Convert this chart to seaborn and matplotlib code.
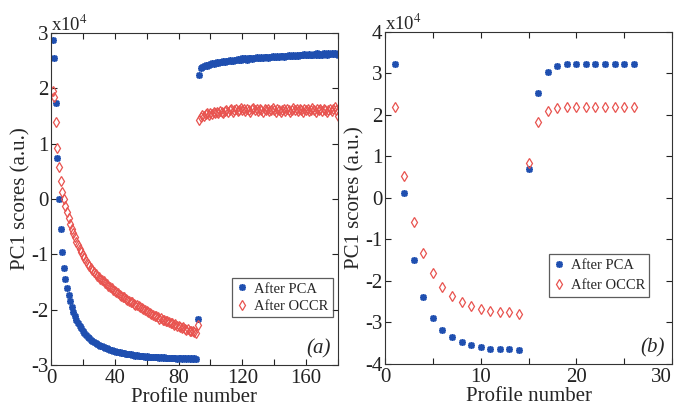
import numpy as np
import pandas as pd
import matplotlib
matplotlib.use("Agg")
import matplotlib.pyplot as plt
import seaborn as sns

# ---------------- data (PC1 scores in units of 1e4) ----------------
# Panel (a): profile numbers 1..180
pca_a_low = [2.87, 2.54, 1.74, 0.74, 0.00, -0.55, -0.96, -1.25, -1.45, -1.61,
             -1.74, -1.85, -1.95, -2.04, -2.12, -2.18, -2.24, -2.29, -2.33, -2.38,
             -2.42, -2.45, -2.49, -2.51, -2.54, -2.56, -2.58, -2.60, -2.62, -2.63,
             -2.65, -2.66, -2.68, -2.69, -2.70, -2.71, -2.72, -2.73, -2.74, -2.75,
             -2.76, -2.76, -2.77, -2.78, -2.79, -2.79, -2.80, -2.80, -2.81, -2.81,
             -2.82, -2.82, -2.83, -2.82, -2.83, -2.84, -2.83, -2.84, -2.85, -2.84,
             -2.85, -2.85, -2.86, -2.85, -2.86, -2.86, -2.85, -2.87, -2.86, -2.87,
             -2.86, -2.87, -2.88, -2.87, -2.87, -2.88, -2.87, -2.88, -2.89, -2.88,
             -2.87, -2.89, -2.88, -2.88, -2.89, -2.88, -2.89, -2.88, -2.89, -2.88,
             -2.89, -2.17]
pca_a_high = [2.25, 2.37, 2.39, 2.40, 2.42, 2.41, 2.43, 2.44, 2.45, 2.44,
              2.46, 2.47, 2.45, 2.48, 2.47, 2.49, 2.47, 2.50, 2.49, 2.51,
              2.50, 2.49, 2.52, 2.51, 2.53, 2.52, 2.51, 2.54, 2.53, 2.54,
              2.52, 2.55, 2.54, 2.53, 2.55, 2.54, 2.56, 2.55, 2.54, 2.56,
              2.55, 2.57, 2.56, 2.55, 2.57, 2.56, 2.58, 2.57, 2.56, 2.58,
              2.57, 2.59, 2.58, 2.57, 2.59, 2.58, 2.60, 2.58, 2.59, 2.60,
              2.59, 2.61, 2.59, 2.60, 2.61, 2.60, 2.62, 2.60, 2.61, 2.62,
              2.61, 2.60, 2.62, 2.61, 2.63, 2.61, 2.62, 2.61, 2.63, 2.62,
              2.61, 2.63, 2.62, 2.64, 2.62, 2.63, 2.62, 2.61]
occr_a_low = [1.96, 1.85, 1.40, 0.93, 0.58, 0.33, 0.13, 0.00, -0.12, -0.24,
              -0.35, -0.45, -0.54, -0.62, -0.69, -0.77, -0.84, -0.90, -0.96, -1.02,
              -1.07, -1.12, -1.17, -1.21, -1.25, -1.29, -1.32, -1.35, -1.39, -1.41,
              -1.44, -1.47, -1.49, -1.52, -1.54, -1.57, -1.59, -1.61, -1.64, -1.66,
              -1.68, -1.70, -1.73, -1.75, -1.77, -1.78, -1.80, -1.82, -1.84, -1.86,
              -1.87, -1.89, -1.91, -1.92, -1.94, -1.96, -1.97, -1.99, -2.00, -2.03,
              -2.05, -2.06, -2.08, -2.09, -2.11, -2.12, -2.14, -2.16, -2.15, -2.18,
              -2.19, -2.21, -2.20, -2.23, -2.24, -2.25, -2.27, -2.26, -2.29, -2.30,
              -2.31, -2.33, -2.32, -2.35, -2.36, -2.35, -2.38, -2.39, -2.38, -2.41,
              -2.43, -2.28]
occr_a_high = [1.42, 1.49, 1.52, 1.50, 1.53, 1.55, 1.52, 1.56, 1.54, 1.57,
               1.55, 1.58, 1.56, 1.59, 1.57, 1.55, 1.59, 1.61, 1.57, 1.60,
               1.62, 1.58, 1.60, 1.63, 1.59, 1.61, 1.64, 1.60, 1.62, 1.59,
               1.63, 1.61, 1.58, 1.62, 1.64, 1.60, 1.62, 1.59, 1.63, 1.61,
               1.58, 1.62, 1.60, 1.63, 1.59, 1.61, 1.64, 1.60, 1.58, 1.62,
               1.60, 1.57, 1.61, 1.63, 1.59, 1.62, 1.60, 1.58, 1.61, 1.64,
               1.60, 1.62, 1.59, 1.63, 1.61, 1.58, 1.62, 1.60, 1.63, 1.59,
               1.61, 1.64, 1.60, 1.58, 1.62, 1.61, 1.63, 1.59, 1.62, 1.60,
               1.57, 1.61, 1.63, 1.59, 1.62, 1.66, 1.60, 1.50]
profiles_a = list(range(1, 181))
pca_a = pca_a_low + pca_a_high
occr_a = occr_a_low + occr_a_high

# Panel (b): profile numbers 1..26
profiles_b = list(range(1, 27))
pca_b = [3.23, 0.13, -1.50, -2.38, -2.89, -3.19, -3.35, -3.47, -3.54, -3.59,
         -3.63, -3.65, -3.65, -3.67, 0.69, 2.52, 3.04, 3.17, 3.22, 3.22,
         3.22, 3.22, 3.22, 3.22, 3.22, 3.22]
occr_b = [2.20, 0.53, -0.57, -1.32, -1.81, -2.14, -2.37, -2.51, -2.61, -2.67,
          -2.72, -2.75, -2.75, -2.80, 0.85, 1.83, 2.09, 2.17, 2.19, 2.19,
          2.19, 2.19, 2.19, 2.19, 2.19, 2.19]

series_names = ["After PCA", "After OCCR"]
xlabel = "Profile number"
ylabel = "PC1 scores (a.u.)"

# ---------------- style ----------------
sns.set_style("ticks")
plt.rcParams["font.family"] = ["Liberation Serif", "DejaVu Serif"]
plt.rcParams["mathtext.fontset"] = "stix"
plt.rcParams["xtick.direction"] = "in"
plt.rcParams["ytick.direction"] = "in"

BLUE = "#1f4fb0"
RED = "#e8534f"
AST = (8, 2, 0)

fig = plt.figure(figsize=(6.75, 4.07), dpi=100)
axA = fig.add_axes([0.0755, 0.1032, 0.4252, 0.8157])
axB = fig.add_axes([0.5704, 0.1057, 0.4252, 0.8157])


def draw(ax, xs, p, o, xlim, ylim, xt_major, xt_minor, letter, leg_anchor, lspace):
    dfp = pd.DataFrame({"x": xs, "y": p})
    dfo = pd.DataFrame({"x": xs, "y": o})
    sns.lineplot(data=dfp, x="x", y="y", ax=ax, estimator=None, sort=False,
                 linestyle="", marker=AST, markersize=5.0, markeredgewidth=1.2,
                 color=BLUE, markeredgecolor=BLUE, label=series_names[0])
    sns.lineplot(data=dfo, x="x", y="y", ax=ax, estimator=None, sort=False,
                 linestyle="", marker="d", markersize=5.0, markeredgewidth=0.9,
                 markerfacecolor="none", markeredgecolor=RED, color=RED,
                 label=series_names[1])
    ax.set_xlim(*xlim)
    ax.set_ylim(*ylim)
    ax.set_xticks(xt_minor, minor=True)
    ax.set_xticks(xt_major)
    ax.set_xticklabels([str(v) for v in xt_major])
    yt = list(range(ylim[0], ylim[1] + 1))
    ax.set_yticks(yt)
    ax.set_yticklabels([str(v) for v in yt])
    ax.tick_params(axis="both", which="both", direction="in", top=True, right=True,
                   labelsize=15, colors="#222222")
    ax.tick_params(axis="x", which="both", pad=3)
    ax.tick_params(axis="y", which="both", pad=2)
    ax.tick_params(axis="both", which="major", length=4.5, width=0.8)
    ax.tick_params(axis="x", which="minor", length=4.5, width=0.8)
    for s in ax.spines.values():
        s.set_color("#333333")
        s.set_linewidth(0.8)
    ax.set_xlabel(xlabel, fontsize=15, labelpad=0)
    ax.set_ylabel(ylabel, fontsize=15, labelpad=0)
    ax.text(0.0, 0.995, r"x10$^{4}$", transform=ax.transAxes, fontsize=13.5,
            ha="left", va="bottom")
    ax.text(0.975, 0.02, letter, transform=ax.transAxes, fontsize=15,
            style="italic", ha="right", va="bottom")
    leg = ax.legend(loc="upper left", bbox_to_anchor=leg_anchor, fontsize=10.5,
                    frameon=True, fancybox=False, handlelength=0.8,
                    handletextpad=0.4, borderpad=0.3, labelspacing=lspace,
                    borderaxespad=0.0)
    leg.get_frame().set_edgecolor("#333333")
    leg.get_frame().set_linewidth(0.9)


draw(axA, profiles_a, pca_a, occr_a, (0, 180), (-3, 3), [0, 40, 80, 120, 160],
     list(range(0, 181, 20)), "(a)", (0.631, 0.262), 0.28)
draw(axB, profiles_b, pca_b, occr_b, (0, 30), (-4, 4), [0, 10, 20, 30],
     list(range(0, 31, 5)), "(b)", (0.571, 0.331), 0.5)

# last x tick label of panel (b) sits flush with the figure edge
axB.get_xticklabels()[-1].set_horizontalalignment("right")
axB.get_xticklabels()[-1].set_x(30)

fig.savefig("out.png", dpi=100)
